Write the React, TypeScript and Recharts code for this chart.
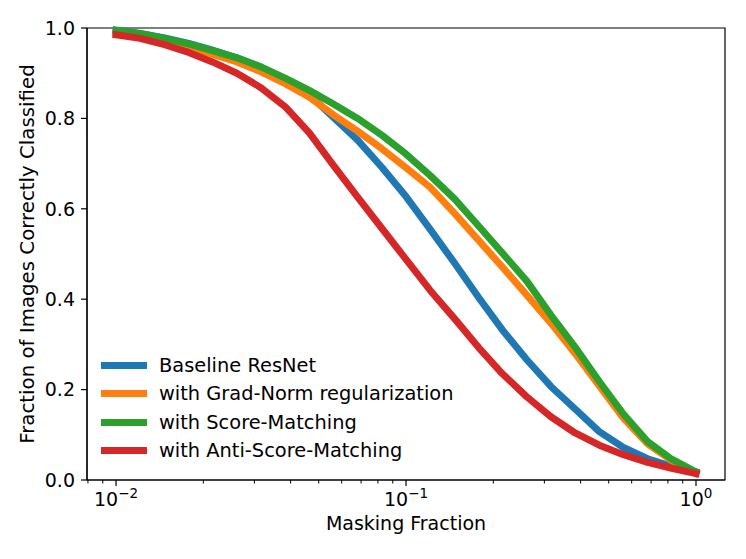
import { Label, Legend, Line, LineChart, ReferenceArea, XAxis, YAxis } from 'recharts'

// masking fractions (log spaced, 0.01 .. 1)
const maskFrac = [0.01, 0.0121, 0.0147, 0.0178, 0.0215, 0.0261, 0.0316, 0.0383, 0.0464, 0.0562, 0.0681, 0.0825,
    0.1, 0.121, 0.147, 0.178, 0.215, 0.261, 0.316, 0.383, 0.464, 0.562, 0.681, 0.825, 1.0]

const baseline = [0.995, 0.988, 0.978, 0.966, 0.951, 0.934, 0.913, 0.887, 0.852, 0.802, 0.752, 0.692,
    0.627, 0.555, 0.48, 0.404, 0.332, 0.266, 0.207, 0.157, 0.107, 0.072, 0.047, 0.03, 0.018]
const gradNorm = [0.99, 0.982, 0.97, 0.957, 0.942, 0.925, 0.903, 0.877, 0.847, 0.808, 0.772, 0.733,
    0.691, 0.648, 0.59, 0.53, 0.471, 0.409, 0.347, 0.28, 0.208, 0.137, 0.08, 0.043, 0.015]
const scoreMatching = [0.995, 0.988, 0.977, 0.965, 0.95, 0.934, 0.914, 0.889, 0.862, 0.832, 0.8, 0.763,
    0.721, 0.674, 0.622, 0.562, 0.502, 0.44, 0.365, 0.294, 0.218, 0.146, 0.085, 0.046, 0.018]
const antiScore = [0.985, 0.977, 0.963, 0.946, 0.925, 0.9, 0.868, 0.826, 0.768, 0.696, 0.626, 0.557,
    0.488, 0.42, 0.357, 0.293, 0.235, 0.184, 0.14, 0.104, 0.077, 0.056, 0.039, 0.026, 0.014]

const seriesNames = ['Baseline ResNet', 'with Grad-Norm regularization', 'with Score-Matching', 'with Anti-Score-Matching']
const seriesColors = ['#1f77b4', '#ff7f0e', '#2ca02c', '#d62728']

const majorTicks = [0.01, 0.1, 1]
const majorExp = ['\u22122', '\u22121', '0']
const minorTicks = [0.008, 0.009, 0.02, 0.03, 0.04, 0.05, 0.06, 0.07, 0.08, 0.09,
    0.2, 0.3, 0.4, 0.5, 0.6, 0.7, 0.8, 0.9]
const yTicks = [0, 0.2, 0.4, 0.6, 0.8, 1.0]
const xDomain = [0.00794, 1.259]

const data = maskFrac.map((x, i) => ({
    x,
    baseline: baseline[i],
    gradNorm: gradNorm[i],
    scoreMatching: scoreMatching[i],
    antiScore: antiScore[i],
}))
const keys = ['baseline', 'gradNorm', 'scoreMatching', 'antiScore']

const FONT = '"DejaVu Sans", sans-serif'

const XTick = (props: any) => {
    const { x, y, payload } = props
    const idx = majorTicks.indexOf(payload.value)
    if (idx < 0) {
        return <line x1={x} x2={x} y1={y} y2={y + 3.5} stroke="#000" strokeWidth={1} />
    }
    return (
        <g>
            <line x1={x} x2={x} y1={y} y2={y + 6} stroke="#000" strokeWidth={1.2} />
            <text x={x} y={y + 26} textAnchor="middle" fontSize={19} fill="#000" fontFamily={FONT}>
                10<tspan fontSize={13.5} dy={-8}>{majorExp[idx]}</tspan>
            </text>
        </g>
    )
}

// legend in plotting order (recharts sorts by name otherwise)
const renderLegend = () => (
    <div style={{ fontFamily: FONT, fontSize: 19.4, color: '#000' }}>
        {seriesNames.map((name, i) => (
            <div key={name} style={{ display: 'flex', alignItems: 'center', height: 28.5 }}>
                <span style={{ display: 'inline-block', width: 46, height: 7, background: seriesColors[i], marginRight: 12 }} />
                <span>{name}</span>
            </div>
        ))}
    </div>
)

export default function App() {
    return (
        <div style={{ fontFamily: FONT }}>
            <LineChart width={730} height={545} data={data}
                margin={{ top: 20, right: 13, left: 0, bottom: 0 }}>
                <XAxis dataKey="x" type="number" scale="log" domain={xDomain} allowDataOverflow
                    ticks={[...minorTicks, ...majorTicks]} interval={0} tick={XTick}
                    tickLine={false} tickSize={0} tickMargin={0} height={73}
                    axisLine={{ stroke: '#000', strokeWidth: 1.2 }}>
                    <Label content={(p: any) => {
                        const vb = p.viewBox || { x: 79, y: 472, width: 638 }
                        return (
                            <text x={vb.x + vb.width / 2} y={vb.y + 50} textAnchor="middle"
                                fontSize={19} fill="#000" fontFamily={FONT}>Masking Fraction</text>
                        )
                    }} />
                </XAxis>
                <YAxis type="number" domain={[0, 1]} ticks={yTicks} interval={0} width={79}
                    tickFormatter={(v: number) => v.toFixed(1)}
                    tick={{ fill: '#000', fontSize: 19, fontFamily: FONT }}
                    tickSize={6} tickMargin={6}
                    tickLine={{ stroke: '#000', strokeWidth: 1.2 }}
                    axisLine={{ stroke: '#000', strokeWidth: 1.2 }}>
                    <Label content={(p: any) => {
                        const vb = p.viewBox || { y: 20, height: 452 }
                        const cy = vb.y + vb.height / 2
                        return (
                            <text x={26} y={cy} transform={`rotate(-90, 26, ${cy})`} textAnchor="middle"
                                fontSize={19.8} fill="#000" fontFamily={FONT}>
                                Fraction of Images Correctly Classified
                            </text>
                        )
                    }} />
                </YAxis>
                <ReferenceArea x1={xDomain[0]} x2={xDomain[1]} y1={0} y2={1} fill="none"
                    stroke="#000" strokeWidth={1.2} ifOverflow="visible" />
                <Legend layout="vertical" align="center" verticalAlign="middle" content={renderLegend}
                    wrapperStyle={{ left: 93, top: 343, width: 'auto', height: 'auto' }} />
                {keys.map((k, i) => (
                    <Line key={k} type="linear" dataKey={k} name={seriesNames[i]} stroke={seriesColors[i]}
                        strokeWidth={7} strokeLinecap="square" strokeLinejoin="round" dot={false}
                        isAnimationActive={false} />
                ))}
            </LineChart>
        </div>
    )
}
